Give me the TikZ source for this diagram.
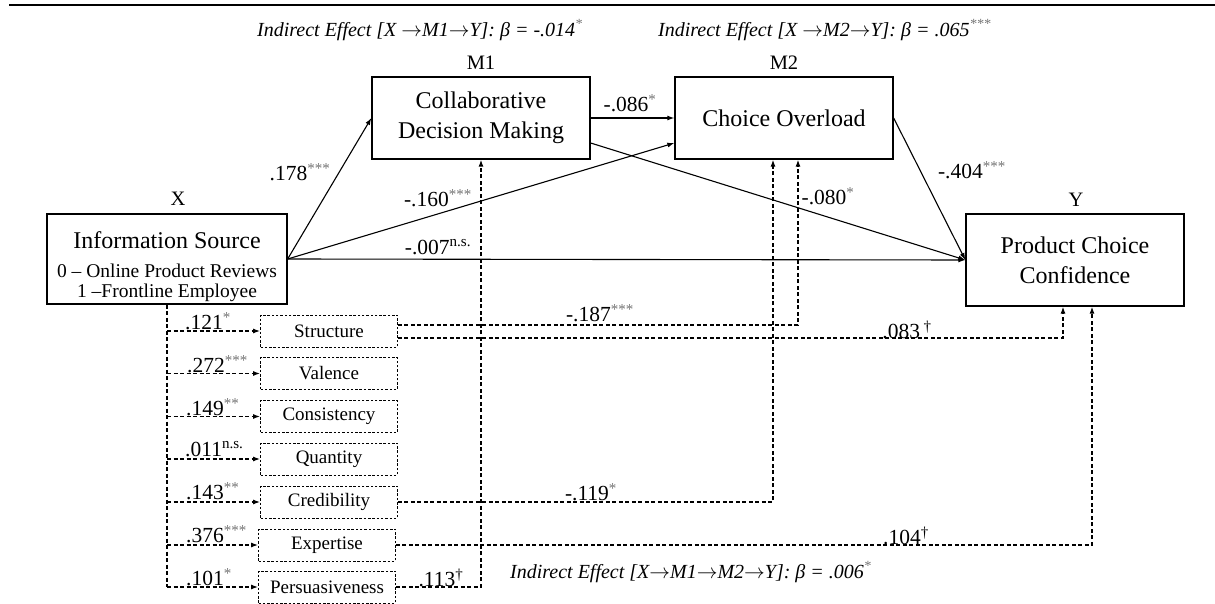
\documentclass[tikz,border=0pt]{standalone}
\usepackage{fontspec}
\setmainfont{Liberation Serif}
\usetikzlibrary{arrows.meta}
\definecolor{starcol}{gray}{0.45}
\newcommand{\supstar}[1]{\textsuperscript{\color{starcol}#1}}
\newcommand{\ra}{$\rightarrow$}
\newcommand{\wsp}{\hspace{5pt}}
\begin{document}
\begin{tikzpicture}[x=1pt,y=-1pt,
  mainbox/.style={draw,line width=1.3pt,minimum width=218pt,minimum height=82pt,inner sep=0pt,align=center,font=\fontsize{24}{30}\selectfont},
  smallbox/.style={draw,line width=0.8pt,dash pattern=on 2.5pt off 1.8pt,minimum width=137pt,minimum height=32pt,inner sep=0pt,font=\fontsize{19}{20}\selectfont},
  hdr/.style={font=\fontsize{20.5}{21}\selectfont,inner sep=0pt},
  coef/.style={font=\fontsize{21.5}{22}\selectfont,inner sep=0pt},
  ital/.style={font=\fontsize{20}{20}\selectfont\itshape,inner sep=0pt},
  subtext/.style={font=\fontsize{19.5}{20}\selectfont,inner sep=0pt},
  solidarrow/.style={line width=1.1pt,-{Latex[length=7pt,width=5pt]}},
  dline/.style={line width=1.2pt,dash pattern=on 4pt off 2.5pt},
  darrow/.style={dline,-{Latex[length=7pt,width=5pt]}}
]
\useasboundingbox (0,0) rectangle (1215,604);
% top rule
\coordinate (RL) at (9,5);
\coordinate (RR) at (1215,5);
\draw[line width=2.5pt] (RL) -- (RR);

% indirect effect labels
\node[ital,anchor=west] (IE1) at (257,30) {Indirect Effect [X \ra M1\ra Y]:\wsp β\wsp=\wsp-.014\supstar{*}};
\node[ital,anchor=west] (IE2) at (658,30) {Indirect Effect [X \ra M2\ra Y]:\wsp β\wsp=\wsp.065\supstar{***}};
\node[ital,anchor=west] (IE3) at (510,572) {Indirect Effect [X\ra M1\ra M2\ra Y]:\wsp β\wsp=\wsp.006\supstar{*}};

% main boxes
\node[mainbox,minimum width=240pt,minimum height=90pt] (X) at (167,259) {};
\node[font=\fontsize{24}{24}\selectfont,inner sep=0pt] (Xt1) at (167,240) {Information Source};
\node[subtext] (Xt2) at (167,271) {0 – Online Product Reviews};
\node[subtext] (Xt3) at (167,293) {1 –Frontline Employee};
\node[mainbox] (M1) at (481,118) {Collaborative\\Decision Making};
\node[mainbox] (M2) at (784,118) {Choice Overload};
\node[mainbox,minimum height=92pt] (Y) at (1075,260) {Product Choice\\Confidence};

\node[hdr] (Xh) at (178,199) {X};
\node[hdr] (M1h) at (481,63) {M1};
\node[hdr] (M2h) at (784,63) {M2};
\node[hdr] (Yh) at (1076,200) {Y};

% small boxes
\node[smallbox] (S1) at (329,331) {Structure};
\node[smallbox] (S2) at (329,373.5) {Valence};
\node[smallbox] (S3) at (329,416.5) {Consistency};
\node[smallbox] (S4) at (329,459) {Quantity};
\node[smallbox] (S5) at (329,502) {Credibility};
\node[smallbox] (S6) at (327,545) {Expertise};
\node[smallbox] (S7) at (327,587) {Persuasiveness};

% solid paths
\draw[solidarrow] (X.east) -- (M1.west);
\draw[solidarrow] (X.east) -- ([yshift=-25pt]M2.west);
\draw[solidarrow] (X.east) -- (Y.west);
\draw[solidarrow] (M1.east) -- (M2.west);
\draw[solidarrow] ([yshift=-25pt]M1.east) -- (Y.west);
\draw[solidarrow] (M2.east) -- (Y.west);

\node[coef] (c178) at (300,172) {.178\supstar{***}};
\node[coef] (c160) at (438,198) {-.160\supstar{***}};
\node[coef] (c007) at (438,247) {-.007\textsuperscript{n.s.}};
\node[coef] (c086) at (630,103) {-.086\supstar{*}};
\node[coef] (c080) at (828,196) {-.080\supstar{*}};
\node[coef] (c404) at (972,170) {-.404\supstar{***}};

% dashed trunk and arrows to small boxes
\draw[dline] (X.south) -- (X.south |- S7.west);
\foreach \s in {S1,S2,S3,S4,S5,S6,S7}{
  \draw[darrow] (X.south |- \s.west) -- (\s.west);
}
\node[coef,anchor=west] (a1) at (185,321) {.121\supstar{*}};
\node[coef,anchor=west] (a2) at (187,364) {.272\supstar{***}};
\node[coef,anchor=west] (a3) at (186,407) {.149\supstar{**}};
\node[coef,anchor=west] (a4) at (185,449) {.011\textsuperscript{n.s.}};
\node[coef,anchor=west] (a5) at (186,491) {.143\supstar{**}};
\node[coef,anchor=west] (a6) at (186,534) {.376\supstar{***}};
\node[coef,anchor=west] (a7) at (186,577) {.101\supstar{*}};

% dashed paths from small boxes
\draw[darrow] ([yshift=6pt]S1.east) -| ([xshift=14pt]M2.south);
\draw[darrow] ([yshift=-7pt]S1.east) -| ([xshift=-12pt]Y.south);
\draw[darrow] (S5.east) -| ([xshift=-11pt]M2.south);
\draw[darrow] (S6.east) -| ([xshift=17pt]Y.south);
\draw[darrow] (S7.east) -| (M1.south);

\node[coef] (d187) at (600,313) {-.187\supstar{***}};
\node[coef] (d083) at (907,330) {.083\,\textsuperscript{†}};
\node[coef] (d119) at (591,492) {-.119\supstar{*}};
\node[coef] (d104) at (906,536) {.104\textsuperscript{†}};
\node[coef] (d113) at (441,578) {.113\textsuperscript{†}};
\end{tikzpicture}
\end{document}
